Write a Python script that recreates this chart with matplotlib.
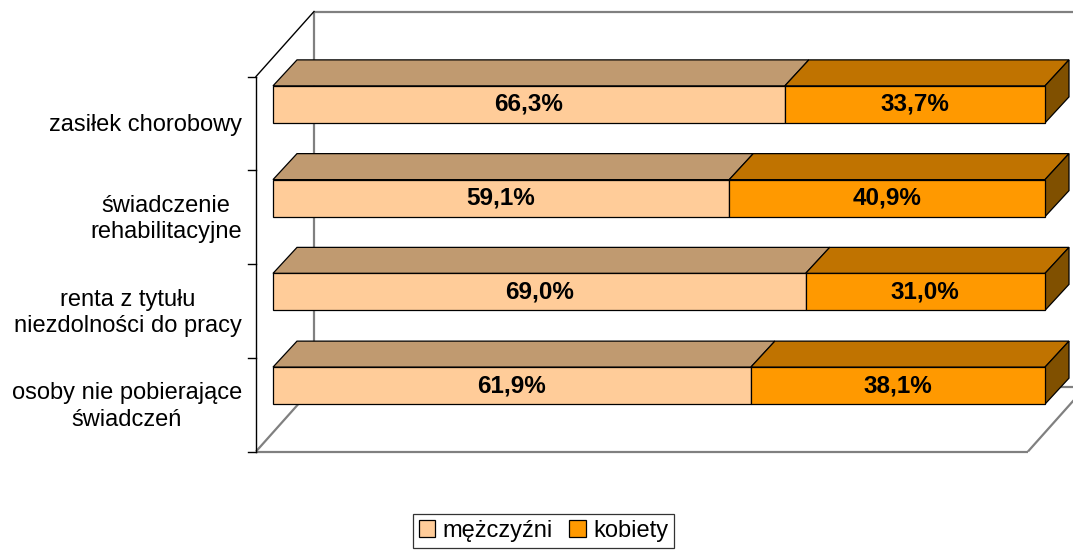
import matplotlib
matplotlib.use("Agg")
import matplotlib.pyplot as plt
from matplotlib.patches import Polygon, Patch
from matplotlib.lines import Line2D

plt.rcParams['font.family'] = ['Liberation Sans', 'DejaVu Sans']

# ---- data ----
categories = ["zasiłek chorobowy", "świadczenie\nrehabilitacyjne",
              "renta z tytułu\nniezdolności do pracy", "osoby nie pobierające\nświadczeń"]
men = [66.3, 59.1, 69.0, 61.9]
women = [33.7, 40.9, 31.0, 38.1]
series_names = ["mężczyźni", "kobiety"]

# ---- styles ----
front_cols = ["#FFCC99", "#FF9900"]
top_cols = ["#C09A70", "#C07300"]
side_col = "#805000"
grey = "#808080"

W, H, DPI = 1073, 550, 100
fig = plt.figure(figsize=(W / DPI, H / DPI), dpi=DPI)
ax_l, ax_b, ax_w, ax_h = 273 / W, 117.5 / H, 772 / W, 375 / H
ax = fig.add_axes([ax_l, ax_b, ax_w, ax_h])
ax.set_xlim(0, 100)
ax.set_ylim(len(categories) - 0.5, -0.5)
ax.axis("off")

px_x = ax_w * W / 100.0       # pixels per x data unit
px_y = ax_h * H / len(categories)  # pixels per y data unit


def off(dx_px, dy_px):
    """pixel offset (right, up) -> data offset"""
    return dx_px / px_x, -dy_px / px_y


# depth planes
fx, fy = off(-17, -19)   # front plane of walls
bx, by = off(41, 46)     # back plane of walls
dxb, dyb = off(24, 26)   # bar depth

y0, y1 = -0.5, len(categories) - 0.5


def line(xs, ys, **kw):
    ax.add_line(Line2D(xs, ys, clip_on=False, **kw))


# back wall & floor
gl = dict(color=grey, lw=1.6, zorder=1, solid_capstyle="butt")
line([0 + bx, 0 + bx], [y0 + by, y1 + by], **gl)
line([0 + bx, 115 + bx], [y0 + by, y0 + by], **gl)
line([0 + bx, 115 + bx], [y1 + by, y1 + by], **gl)
line([0 + fx, 100 + fx], [y1 + fy, y1 + fy], **gl)
line([100 + fx, 100 + bx], [y1 + fy, y1 + by], **gl)
line([0 + fx, 0 + bx], [y1 + fy, y1 + by], **gl)
# left axis
kl = dict(color="black", lw=1.0, zorder=2)
line([0 + fx, 0 + fx], [y0 + fy, y1 + fy], **kl)
line([0 + fx, 0 + bx], [y0 + fy, y0 + by], **kl)
tick_dx = 8 / px_x
for k in range(len(categories) + 1):
    yy = -0.5 + k + fy
    line([fx - tick_dx, fx], [yy, yy], **kl)

# category labels
for i, lab in enumerate(categories):
    ax.text(fx - 14 / px_x, i + fy + 0.02, lab, ha="right", va="center",
            multialignment="center", fontsize=17, linespacing=1.25, clip_on=False)

# bars
bh = 37 / px_y
ec = dict(edgecolor="black", linewidth=0.9)
for i in range(len(categories)):
    lefts = [0, men[i]]
    vals = [men[i], women[i]]
    top = i - bh / 2
    bot = i + bh / 2
    for s in range(2):
        l, w = lefts[s], vals[s]
        r = l + w
        # top face
        ax.add_patch(Polygon([(l, top), (r, top), (r + dxb, top + dyb), (l + dxb, top + dyb)],
                             closed=True, facecolor=top_cols[s], zorder=5, clip_on=False, **ec))
        if s == 1:
            ax.add_patch(Polygon([(r, top), (r + dxb, top + dyb), (r + dxb, bot + dyb), (r, bot)],
                                 closed=True, facecolor=side_col, zorder=5, clip_on=False, **ec))
        bars = ax.barh(i, w, left=l, height=bh, color=front_cols[s], zorder=6, **ec)
        for b in bars:
            b.set_clip_on(False)
        ax.text(l + w / 2, i, f"{w:.1f}%".replace(".", ","), ha="center", va="center",
                fontsize=17.5, fontweight="bold", zorder=7)

handles = [Patch(facecolor=front_cols[s], edgecolor="black", linewidth=0.9) for s in range(2)]
leg = fig.legend(handles, series_names, loc="upper center", bbox_to_anchor=(543.5 / W, 1 - 514 / H),
                 ncol=2, fontsize=17, frameon=True, fancybox=False, borderpad=0.25,
                 handlelength=0.7, handleheight=0.7, handletextpad=0.3, columnspacing=0.7,
                 borderaxespad=0)
leg.get_frame().set_edgecolor("black")
leg.get_frame().set_linewidth(0.9)

fig.savefig("out.png", dpi=DPI)
